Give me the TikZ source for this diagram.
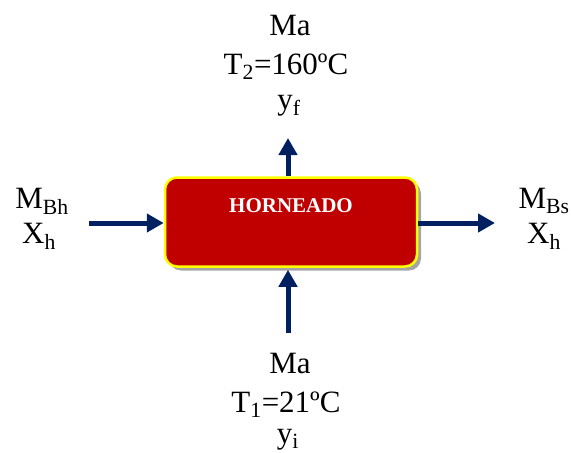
\documentclass[tikz,border=0pt]{standalone}
\usepackage{fontspec}
\setmainfont{Liberation Serif}
\usepackage{tikz}
\usetikzlibrary{arrows.meta,positioning,shadows}
\definecolor{flowblue}{HTML}{002060}
\definecolor{ovenred}{HTML}{C00000}
\definecolor{ovenrim}{HTML}{FFFF00}
\tikzset{
  >={Triangle[length=17pt,width=18pt]},
  % proceso
  proc/.style={draw=ovenrim,fill=ovenred,line width=2.5pt,rounded corners=12pt,
               minimum width=252pt,minimum height=89pt,
               drop shadow={shadow xshift=4pt,shadow yshift=-4pt,fill=black!35,opacity=1}},
  proclbl/.style={text=white,font=\fontsize{21}{24}\selectfont\bfseries,anchor=base,inner sep=0pt},
  % flujos
  flow/.style={->,draw=flowblue,line width=5pt},
  lbl/.style={font=\fontsize{31}{36}\selectfont,anchor=base,inner sep=0pt},
}
\begin{document}
\begin{tikzpicture}[x=1pt,y=-1pt]
  \useasboundingbox (0,0) rectangle (571,453);
  \node[proc] (horno) at (291,222) {};
  \node[proclbl] (hornotxt) at (291,212) {HORNEADO};
  % entradas y salidas
  \coordinate (inL) at (89,223);
  \coordinate (outR) at (495,223);
  \coordinate (outT) at (288,138);
  \coordinate (inB) at (288,333);
  \draw[flow] (inL) -- (inL -| horno.west);
  \draw[flow] (outR -| horno.east) -- (outR);
  \draw[flow] (outT |- horno.north) -- (outT);
  \draw[flow] (inB) -- ([yshift=-2pt]inB |- horno.south);
  % corriente superior
  \node[lbl] (maT) at (290,35) {Ma};
  \node[lbl] (tT) at (286,74) {T\textsubscript{2}=160ºC};
  \node[lbl] (yT) at (289,109) {y\textsubscript{f}};
  % corriente inferior
  \node[lbl] (maB) at (290,373) {Ma};
  \node[lbl] (tB) at (286,412) {T\textsubscript{1}=21ºC};
  \node[lbl] (yB) at (288,443) {y\textsubscript{i}};
  % izquierda
  \node[lbl] (mL) at (42,208) {M\textsubscript{Bh}};
  \node[lbl] (xL) at (39,243) {X\textsubscript{h}};
  % derecha
  \node[lbl] (mR) at (544,208) {M\textsubscript{Bs}};
  \node[lbl] (xR) at (544,243) {X\textsubscript{h}};
\end{tikzpicture}
\end{document}
